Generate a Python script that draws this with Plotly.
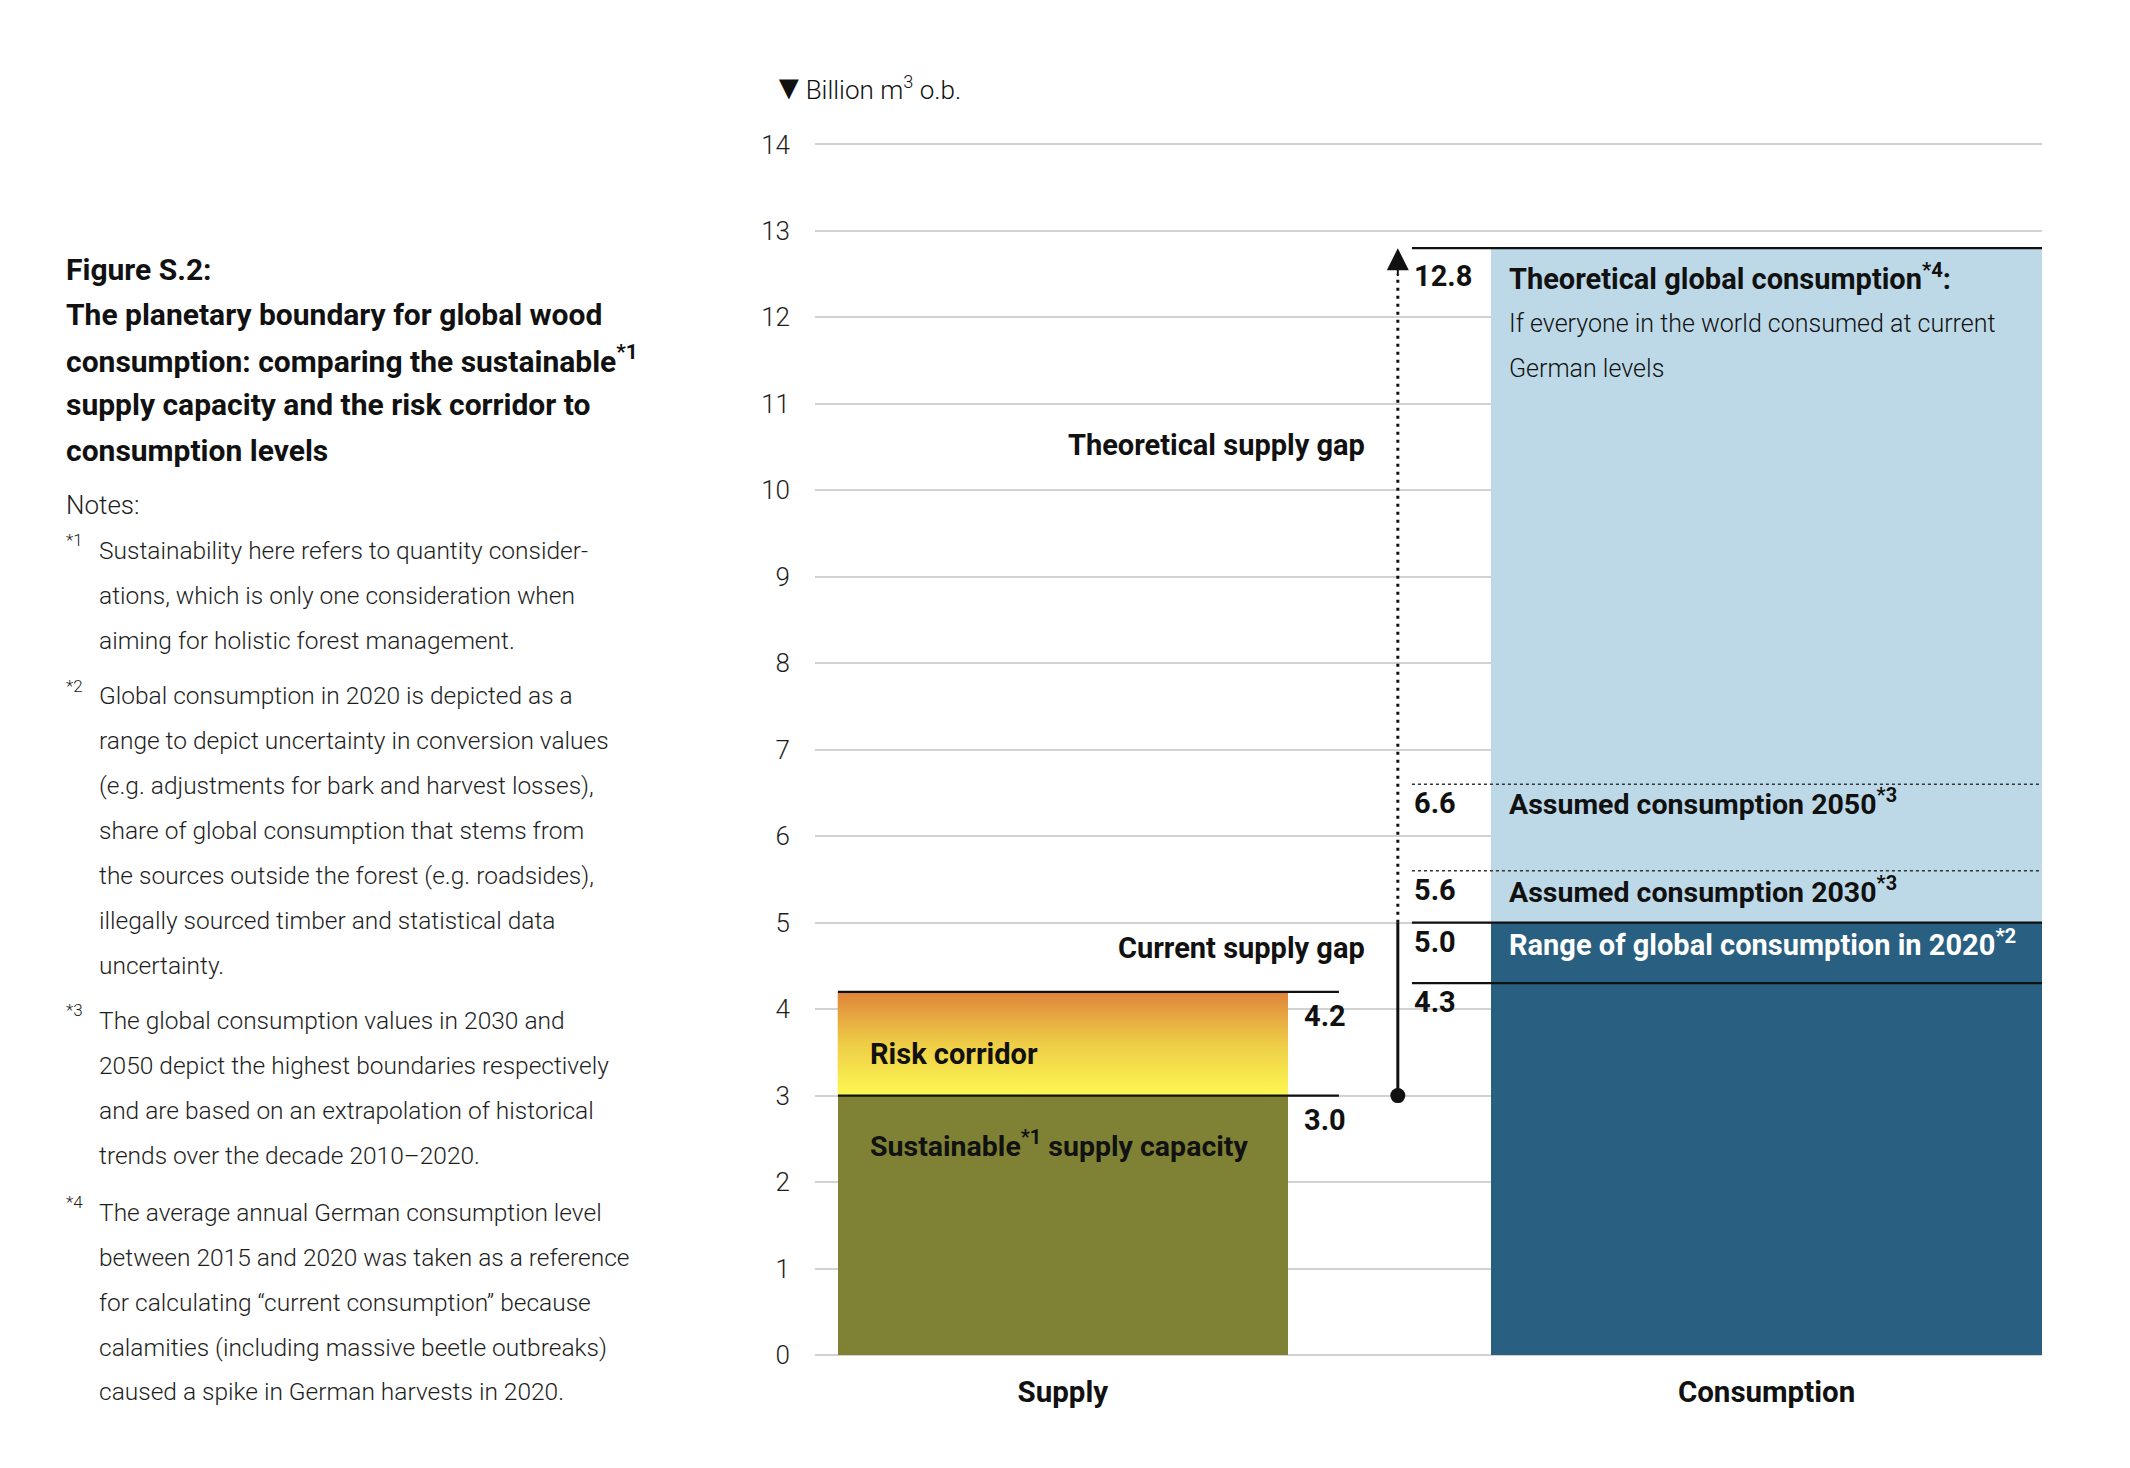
import plotly.graph_objects as go

# ---------------- data ----------------
categories = ["Supply", "Consumption"]
sustainable_supply = 3.0
risk_corridor_top = 4.2
consumption_2020_low = 4.3
consumption_2020_high = 5.0
consumption_2030 = 5.6
consumption_2050 = 6.6
theoretical_consumption = 12.8
y_ticks = list(range(0, 15))
Y_MAX = 14
Y_PAD = 0.04  # keeps the top gridline inside the plot area

# ---------------- layout constants ----------------
W, H = 2130, 1468
OFF = 8  # page body margin
PLOT_X0, PLOT_X1 = 815 - OFF, 2042 - OFF
PLOT_Y0, PLOT_Y1 = 144 - OFF, 1355 - OFF
UNIT_PX = (PLOT_Y1 - PLOT_Y0) / Y_MAX
PLOT_Y0_EXT = PLOT_Y0 - Y_PAD * UNIT_PX
L, R, T, B = PLOT_X0, W - PLOT_X1, PLOT_Y0_EXT, H - PLOT_Y1
PW = PLOT_X1 - PLOT_X0
PH = PLOT_Y1 - PLOT_Y0_EXT


def pxx(xp):
    return (xp - OFF - L) / PW


def pxy(yp):
    return (PLOT_Y1 - (yp - OFF)) / PH


FONT = "Roboto, sans-serif"
INK = "#111111"
NOTE = "#1e1e1e"
OLIVE = "#7F8235"
DARK = "#296082"
LIGHT = "#BDD9E7"
GRID = "#d2d2d2"

SUP_X, SUP_W = 20.2, 36.7
CON_X, CON_W = 77.55, 44.9
SUP_LINE = (1.87, 42.7)
CON_LINE = (48.65, 100.0)
ARROW_X = 47.5
SUP_VAL_X = 39.7
CON_VAL_X = 48.65
CON_TXT_X = 56.4
SUP_TXT_X = 4.3
GAP_TXT_X = 45.0

fig = go.Figure()

# sustainable supply bar
fig.add_bar(x=[SUP_X], y=[sustainable_supply], base=0, width=SUP_W,
            marker=dict(color=OLIVE, line=dict(width=0)), hoverinfo="skip")

# risk corridor (gradient)
x0, x1 = SUP_X - SUP_W / 2, SUP_X + SUP_W / 2
fig.add_scatter(
    x=[x0, x1, x1, x0, x0],
    y=[sustainable_supply, sustainable_supply, risk_corridor_top, risk_corridor_top, sustainable_supply],
    mode="lines", fill="toself", line=dict(width=0),
    fillgradient=dict(type="vertical", start=sustainable_supply, stop=risk_corridor_top,
                      colorscale=[[0, "#FDF852"], [0.5, "#EECD47"], [1, "#E0833A"]]),
    hoverinfo="skip")

# consumption bars
fig.add_bar(x=[CON_X], y=[consumption_2020_high], base=0, width=CON_W,
            marker=dict(color=DARK, line=dict(width=0)), hoverinfo="skip")
fig.add_bar(x=[CON_X], y=[theoretical_consumption - consumption_2020_high],
            base=consumption_2020_high, width=CON_W,
            marker=dict(color=LIGHT, line=dict(width=0)), hoverinfo="skip")

# solid reference lines
sx, cx = SUP_LINE, CON_LINE
lx, ly = [], []
for v in [sustainable_supply, risk_corridor_top]:
    lx += [sx[0], sx[1], None]
    ly += [v, v, None]
for v in [consumption_2020_low, consumption_2020_high, theoretical_consumption]:
    lx += [cx[0], cx[1], None]
    ly += [v, v, None]
fig.add_scatter(x=lx, y=ly, mode="lines", line=dict(color=INK, width=2.2), hoverinfo="skip")

# dotted projection lines
dx, dy = [], []
for v in [consumption_2030, consumption_2050]:
    dx += [cx[0], cx[1], None]
    dy += [v, v, None]
fig.add_scatter(x=dx, y=dy, mode="lines", line=dict(color="#333333", width=1.6, dash="dot"),
                hoverinfo="skip")

# supply gap arrow
fig.add_scatter(x=[ARROW_X, ARROW_X], y=[sustainable_supply, consumption_2020_high],
                mode="lines", line=dict(color=INK, width=3), hoverinfo="skip")
fig.add_scatter(x=[ARROW_X], y=[sustainable_supply], mode="markers",
                marker=dict(color=INK, size=15), hoverinfo="skip")
fig.add_scatter(x=[ARROW_X, ARROW_X], y=[consumption_2020_high, theoretical_consumption - 0.3],
                mode="lines", line=dict(color=INK, width=3, dash="3px,5px"), hoverinfo="skip")

annotations = []
annotations.append(dict(x=ARROW_X, y=theoretical_consumption, xref="x", yref="y",
                        ax=ARROW_X, ay=theoretical_consumption - 0.34, axref="x", ayref="y",
                        showarrow=True, arrowhead=2, arrowsize=2.2, arrowwidth=2,
                        arrowcolor=INK, text=""))


def ann(text, x, y, xanchor="left", size=29, color=INK, yshift=0, xref="x", yref="y",
        weight=None):
    f = dict(family=FONT, size=size, color=color)
    if weight is not None:
        f["weight"] = weight
    annotations.append(dict(text=text, x=x, y=y, xref=xref, yref=yref, xanchor=xanchor,
                            yanchor="middle", showarrow=False, yshift=yshift, font=f))


# value labels
for v in [risk_corridor_top, sustainable_supply]:
    ann(f"<b>{v:.1f}</b>", SUP_VAL_X, v, yshift=-24)
for v in [consumption_2050, consumption_2030, consumption_2020_high, consumption_2020_low]:
    ann(f"<b>{v:.1f}</b>", CON_VAL_X, v, yshift=-19)
ann(f"<b>{theoretical_consumption:.1f}</b>", CON_VAL_X, theoretical_consumption, yshift=-28)

# consumption descriptions
ann("<b>Theoretical global consumption<sup>*4</sup>:</b>", CON_TXT_X, theoretical_consumption, yshift=-29)
ann("If everyone in the world consumed at current", CON_TXT_X, theoretical_consumption,
    yshift=-75, size=25, weight=300)
ann("German levels", CON_TXT_X, theoretical_consumption, yshift=-120, size=25, weight=300)
ann("<b>Assumed consumption 2050<sup>*3</sup></b>", CON_TXT_X, consumption_2050, yshift=-18, size=28.5)
ann("<b>Assumed consumption 2030<sup>*3</sup></b>", CON_TXT_X, consumption_2030, yshift=-19, size=28.5)
ann("<b>Range of global consumption in 2020<sup>*2</sup></b>", CON_TXT_X, consumption_2020_high,
    yshift=-20, color="white")

# supply descriptions
ann("<b>Risk corridor</b>", SUP_TXT_X, sustainable_supply, yshift=42)
ann("<b>Sustainable<sup>*1</sup> supply capacity</b>", SUP_TXT_X, sustainable_supply, yshift=-48,
    size=28.5)
ann("<b>Theoretical supply gap</b>", GAP_TXT_X, 10.53, xanchor="right")
ann("<b>Current supply gap</b>", GAP_TXT_X, consumption_2020_high, xanchor="right", yshift=-25)

# unit label
ann("<span style='font-size:34px'>▼</span>Billion m<sup>3</sup> o.b.", pxx(770), pxy(87),
    size=26, xref="paper", yref="paper", weight=300)

# left text panel
title_lines = [
    "Figure S.2:",
    "The planetary boundary for global wood",
    "consumption: comparing the sustainable<sup>*1</sup>",
    "supply capacity and the risk corridor to",
    "consumption levels",
]
for i, t in enumerate(title_lines):
    ann(f"<b>{t}</b>", pxx(64), pxy(269 + 45.2 * i), size=30, xref="paper", yref="paper")

ann("Notes:", pxx(64), pxy(505), size=26, xref="paper", yref="paper", color=NOTE, weight=300)

notes = [
    ("*1", 550, ["Sustainability here refers to quantity consider-",
                 "ations, which is only one consideration when",
                 "aiming for holistic forest management."]),
    ("*2", 695.5, ["Global consumption in 2020 is depicted as a",
                   "range to depict uncertainty in conversion values",
                   "(e.g. adjustments for bark and harvest losses),",
                   "share of global consumption that stems from",
                   "the sources outside the forest (e.g. roadsides),",
                   "illegally sourced timber and statistical data",
                   "uncertainty."]),
    ("*3", 1020, ["The global consumption values in 2030 and",
                  "2050 depict the highest boundaries respectively",
                  "and are based on an extrapolation of historical",
                  "trends over the decade 2010–2020."]),
    ("*4", 1212, ["The average annual German consumption level",
                  "between 2015 and 2020 was taken as a reference",
                  "for calculating “current consumption” because",
                  "calamities (including massive beetle outbreaks)",
                  "caused a spike in German harvests in 2020."]),
]
for mark, y0, lines in notes:
    ann(mark, pxx(64), pxy(y0 - 10), size=17, xref="paper", yref="paper", color=NOTE, weight=300)
    for i, t in enumerate(lines):
        ann(t, pxx(96.5), pxy(y0 + 45 * i), size=24.5, xref="paper", yref="paper", color=NOTE,
            weight=300)

fig.update_layout(
    width=W, height=H,
    margin=dict(l=L, r=R, t=T, b=B),
    paper_bgcolor="white", plot_bgcolor="white",
    showlegend=False, barmode="overlay", bargap=0,
    font=dict(family=FONT, color=INK),
    annotations=annotations,
    xaxis=dict(range=[0, 100], showgrid=False, zeroline=False, showline=False,
               tickvals=[SUP_X, CON_X], ticktext=[f"<b>{c}</b>" for c in categories],
               ticks="", tickfont=dict(family=FONT, size=29.5, color=INK),
               ticklabelstandoff=16, fixedrange=True),
    yaxis=dict(range=[0, Y_MAX + Y_PAD], tickvals=y_ticks, showgrid=True, gridcolor=GRID,
               gridwidth=1.5, zeroline=True, zerolinecolor=GRID, zerolinewidth=1.5,
               showline=False, ticks="", tickfont=dict(family=FONT, size=26, color=NOTE, weight=300),
               ticklabelstandoff=24, fixedrange=True),
)

fig.write_html("out.html")
